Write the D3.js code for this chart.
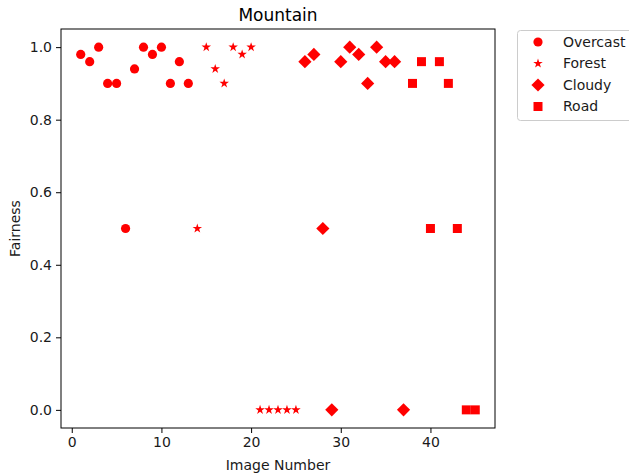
<!DOCTYPE html>
<html>
<head>
<meta charset="utf-8">
<script src="https://cdn.jsdelivr.net/npm/d3@7"></script>
<style>
  body { margin: 0; background: #fff; }
  svg { font-family: "DejaVu Sans", sans-serif; }
</style>
</head>
<body>
<svg id="chart" width="629" height="474"></svg>
<script>
// --- data ---
const overcastX = [1, 2, 3, 4, 5, 6, 7, 8, 9, 10, 11, 12, 13];
const overcastY = [0.98, 0.96, 1.0, 0.9, 0.9, 0.5, 0.94, 1.0, 0.98, 1.0, 0.9, 0.96, 0.9];
const forestX = [14, 15, 16, 17, 18, 19, 20, 21, 22, 23, 24, 25];
const forestY = [0.5, 1.0, 0.94, 0.9, 1.0, 0.98, 1.0, 0, 0, 0, 0, 0];
const cloudyX = [26, 27, 28, 29, 30, 31, 32, 33, 34, 35, 36, 37];
const cloudyY = [0.96, 0.98, 0.5, 0, 0.96, 1.0, 0.98, 0.9, 1.0, 0.96, 0.96, 0];
const roadX = [38, 39, 40, 41, 42, 43, 44, 45];
const roadY = [0.9, 0.96, 0.5, 0.96, 0.9, 0.5, 0, 0];
const xTicks = [0, 10, 20, 30, 40];
const yTicks = [0.0, 0.2, 0.4, 0.6, 0.8, 1.0];

const series = [
  { name: "Overcast", shape: "circle", xs: overcastX, ys: overcastY },
  { name: "Forest", shape: "star", xs: forestX, ys: forestY },
  { name: "Cloudy", shape: "diamond", xs: cloudyX, ys: cloudyY },
  { name: "Road", shape: "square", xs: roadX, ys: roadY }
];

const svg = d3.select("#chart");
const m = { left: 61, right: 495, top: 29, bottom: 428 };
const red = "#ff0000";

const x = d3.scaleLinear().domain([-1.2, 47.2]).range([m.left, m.right]);
const y = d3.scaleLinear().domain([-0.05, 1.05]).range([m.bottom, m.top]);

// marker path makers (centred at 0,0)
function markerPath(shape) {
  if (shape === "circle") return d3.symbol(d3.symbolCircle, Math.PI * 4.6 * 4.6)();
  if (shape === "square") return "M-4.5,-4.5H4.5V4.5H-4.5Z";
  if (shape === "diamond") return "M0,-6.6L6.6,0L0,6.6L-6.6,0Z";
  // 5 point star like matplotlib '*'
  const R = 5, r = R * 0.381966;
  const pts = d3.range(10).map(i => {
    const a = -Math.PI / 2 + i * Math.PI / 5;
    const rr = i % 2 === 0 ? R : r;
    return [rr * Math.cos(a), rr * Math.sin(a)];
  });
  return "M" + pts.map(p => p.join(",")).join("L") + "Z";
}

// axes
const xAxis = d3.axisBottom(x).tickValues(xTicks).tickFormat(d3.format("d")).tickSizeOuter(0).tickSize(5).tickPadding(4);
const yAxis = d3.axisLeft(y).tickValues(yTicks).tickFormat(d3.format(".1f")).tickSizeOuter(0).tickSize(5).tickPadding(4);

const gx = svg.append("g").attr("transform", `translate(0,${m.bottom})`).call(xAxis);
const gy = svg.append("g").attr("transform", `translate(${m.left},0)`).call(yAxis);
[gx, gy].forEach(g => {
  g.select(".domain").remove();
  g.selectAll("line").attr("stroke", "#000").attr("stroke-width", 1);
  g.selectAll("text").attr("fill", "#1a1a1a").style("font-size", "14px").style("font-family", "DejaVu Sans");
});

// frame
svg.append("rect")
  .attr("x", m.left).attr("y", m.top)
  .attr("width", m.right - m.left).attr("height", m.bottom - m.top)
  .attr("fill", "none").attr("stroke", "#000").attr("stroke-width", 1);

// points
series.forEach(s => {
  const d = s.xs.map((v, i) => [v, s.ys[i]]);
  svg.append("g").selectAll("path").data(d).join("path")
    .attr("d", markerPath(s.shape))
    .attr("transform", p => `translate(${x(p[0])},${y(p[1])})`)
    .attr("fill", red);
});

// labels
svg.append("text").attr("x", (m.left + m.right) / 2).attr("y", 21)
  .attr("text-anchor", "middle").style("font-size", "17px").attr("fill", "#000").text("Mountain");
svg.append("text").attr("x", (m.left + m.right) / 2).attr("y", 470)
  .attr("text-anchor", "middle").style("font-size", "14px").attr("fill", "#1a1a1a").text("Image Number");
svg.append("text").attr("transform", `translate(20,${(m.top + m.bottom) / 2}) rotate(-90)`)
  .attr("text-anchor", "middle").style("font-size", "14px").attr("fill", "#1a1a1a").text("Fairness");

// legend
const lg = svg.append("g");
lg.append("rect").attr("x", 517.5).attr("y", 30.5).attr("width", 130).attr("height", 90)
  .attr("rx", 3).attr("fill", "#fff").attr("stroke", "#cccccc").attr("stroke-width", 1);
series.forEach((s, i) => {
  const yy = 42 + i * 21.5;
  lg.append("path").attr("d", markerPath(s.shape)).attr("transform", `translate(538,${yy})`).attr("fill", red);
  lg.append("text").attr("x", 563).attr("y", yy).attr("dy", "0.35em")
    .style("font-size", "14px").attr("fill", "#1a1a1a").text(s.name);
});
</script>
</body>
</html>
